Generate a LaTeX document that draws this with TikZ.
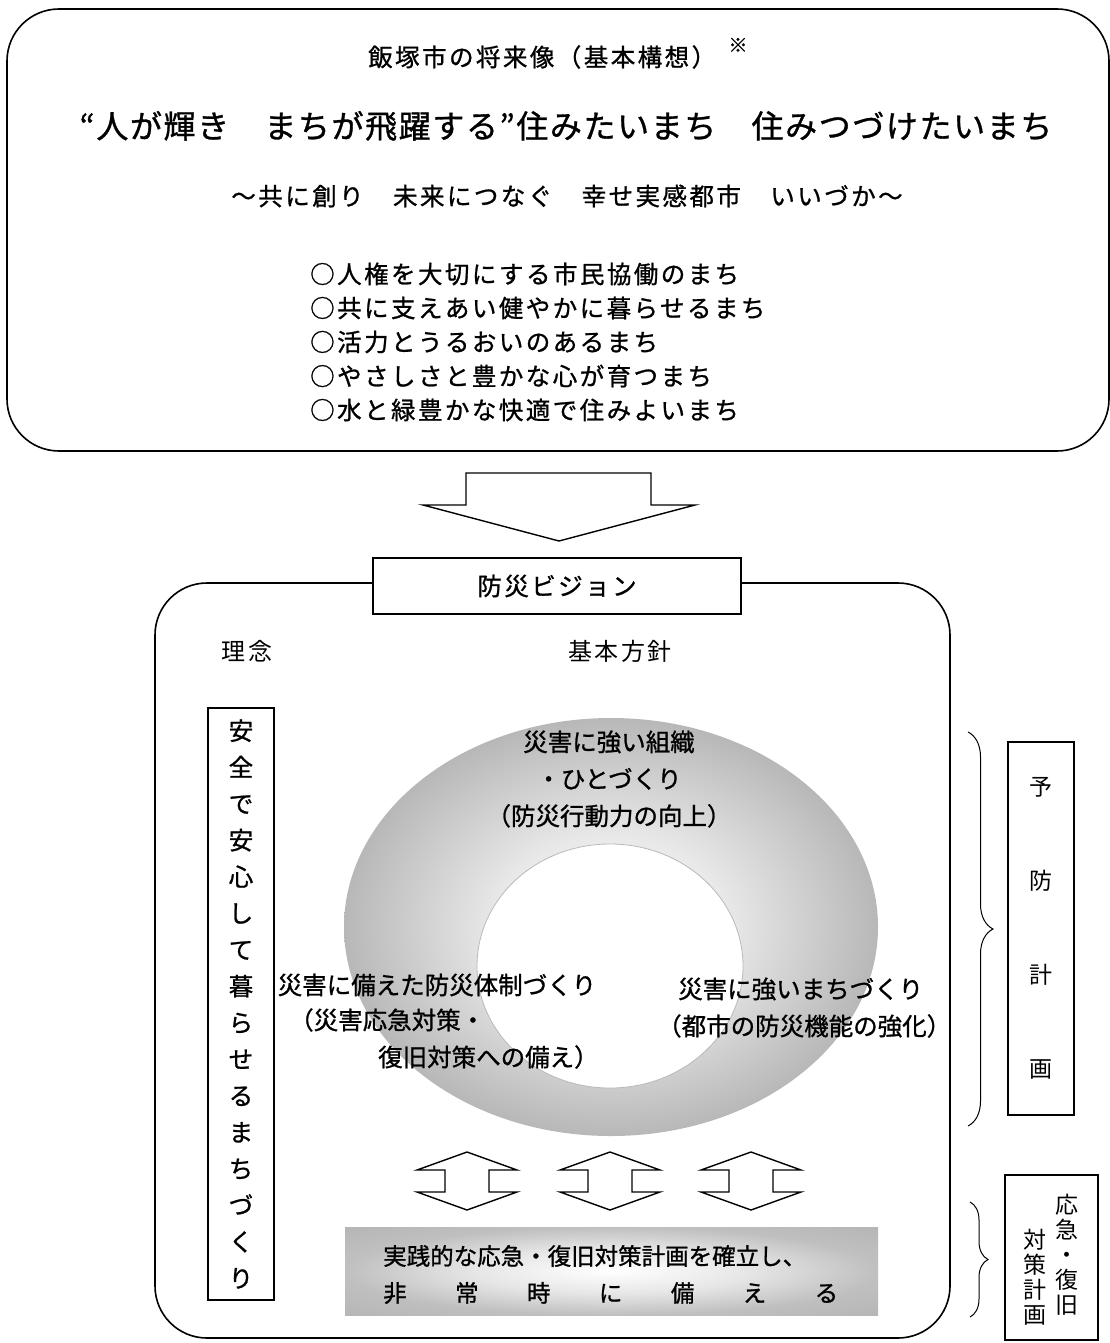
\documentclass[tikz,border=0pt]{standalone}
\usepackage{fontspec}
\usepackage{tikz}
\usetikzlibrary{positioning,decorations.pathreplacing}
\setmainfont{Noto Sans CJK JP}
\newfontfamily\jpfont[FakeBold=1]{Noto Sans CJK JP}
\newfontfamily\jplight{Noto Sans CJK JP}
\newfontfamily\jpwide[LetterSpace=10,FakeBold=1]{Noto Sans CJK JP}
\newfontfamily\jpthin[LetterSpace=10]{Noto Sans CJK JP}
\newfontfamily\jptitle[LetterSpace=5,FakeBold=1]{Noto Sans CJK JP}
\pgfdeclareradialshading{ringshade}{\pgfpoint{0bp}{0bp}}{color(0bp)=(white); color(11bp)=(gray!18); color(25bp)=(gray!56); color(50bp)=(gray!56)}
\pgfdeclareradialshading{barshade}{\pgfpoint{0bp}{0bp}}{color(0bp)=(white); color(13bp)=(gray!20); color(25bp)=(gray!50); color(36bp)=(gray!58); color(50bp)=(gray!58)}

\begin{document}
\begin{tikzpicture}[x=1pt,y=-1pt]
\tikzset{frame/.style = {draw,line width=1.6pt,rounded corners=52pt}}
\tikzset{outline/.style = {draw,line width=1.4pt}}
\tikzset{wide/.style = {inner sep=0pt,font=\jpwide\fontsize{24.5}{27}\selectfont}}
\tikzset{thin/.style = {inner sep=0pt,font=\jpthin\fontsize{24}{27}\selectfont}}
\tikzset{ringtxt/.style = {inner sep=0pt,font=\jpfont\fontsize{24.5}{34}\selectfont}}
\tikzset{column/.style = {outline,inner sep=0pt,align=center}}
\tikzset{curly/.style = {decorate,decoration={brace,amplitude=25pt},line width=1pt}}
\useasboundingbox (0,0) rectangle (1110,1343);
% future image
\draw[frame] (7,9) rectangle (1109,451);
\node[wide,anchor=west] (future) at (368,57) {飯塚市の将来像（基本構想）};
\node[inner sep=0pt,font=\jpfont\fontsize{19}{19}\selectfont] (note) at (738,45) {※};
\node[inner sep=0pt,font=\jptitle\fontsize{32}{36}\selectfont] (slogan) at (566,126) {“人が輝き　まちが飛躍する”住みたいまち　住みつづけたいまち};
\node[wide] (city) at (567,196) {～共に創り　未来につなぐ　幸せ実感都市　いいづか～};
\foreach \g [count=\i] in {○人権を大切にする市民協働のまち,○共に支えあい健やかに暮らせるまち,○活力とうるおいのあるまち,○やさしさと豊かな心が育つまち,○水と緑豊かな快適で住みよいまち}
  \node[wide,anchor=west] (goal\i) at (310,{240+34*\i}) {\g};
% arrow
\draw[outline] (466,473) -- (651,473) -- (651,505) -- (695,505) -- (559,541) -- (423,505) -- (466,505) -- cycle;
% vision
\draw[frame] (155,583) rectangle (950,1338);
\node[outline,fill=white,minimum width=368pt,minimum height=56pt] (vision) at (557,586) {\jpwide\fontsize{24.5}{27}\selectfont 防災ビジョン};
\node[thin] (idea) at (247,651) {理念};
\node[thin] (policy) at (620,651) {基本方針};
\node[column,minimum width=66pt,minimum height=592pt,font=\jpfont\fontsize{24.5}{36.5}\selectfont] (motto) at (241,1004) {安\\全\\で\\安\\心\\し\\て\\暮\\ら\\せ\\る\\ま\\ち\\づ\\く\\り};
% ring
\shade[shading=ringshade] (611,927) ellipse [x radius=267pt,y radius=209pt];
\draw[gray!55,line width=0.8pt,fill=white] (610,966) ellipse [x radius=133pt,y radius=122pt];
\node[ringtxt,align=center,font=\jpfont\fontsize{24.5}{37}\selectfont] (people) at (609,779) {災害に強い組織\\・ひとづくり\\（防災行動力の向上）};
\node[ringtxt] (system1) at (437,985) {災害に備えた防災体制づくり};
\node[ringtxt,anchor=west] (system2) at (289,1020) {（災害応急対策・};
\node[ringtxt,anchor=west] (system3) at (378,1057) {復旧対策への備え）};
\node[ringtxt,anchor=west] (town1) at (678,989) {災害に強いまちづくり};
\node[ringtxt,anchor=west] (town2) at (657,1026) {（都市の防災機能の強化）};
% double arrows
\foreach \cx in {467,610,751}
  \draw[outline] ({\cx-50},1170) -- (\cx,1152) -- ({\cx+50},1170) -- ({\cx+22},1170) -- ({\cx+22},1192) -- ({\cx+50},1192) -- (\cx,1210) -- ({\cx-50},1192) -- ({\cx-22},1192) -- ({\cx-22},1170) -- cycle;
% response bar
\node[shade,shading=barshade,minimum width=533pt,minimum height=88pt,inner sep=0pt] (bar) at (611.5,1271) {};
\node[inner sep=0pt,anchor=west,font=\jpfont\fontsize{23.5}{27}\selectfont] (act1) at (383,1256) {実践的な応急・復旧対策計画を確立し、};
\node[inner sep=0pt,anchor=west,font=\jpfont\fontsize{23.5}{27}\selectfont] (act2) at (383,1293) {\hbox to 455pt{非\hfill 常\hfill 時\hfill に\hfill 備\hfill え\hfill る}};
% plans
\node[column,minimum width=66pt,minimum height=373pt,font=\jplight\fontsize{23}{94}\selectfont] (prevent) at (1041,928.5) {予\\防\\計\\画};
\node[outline,minimum width=93pt,minimum height=165pt] (resp) at (1051.5,1257.5) {};
\node[inner sep=0pt,align=center,font=\jplight\fontsize{23}{25}\selectfont] (resp1) at (1067,1255) {応\\急\\・\\復\\旧};
\node[inner sep=0pt,align=center,font=\jplight\fontsize{23}{25}\selectfont] (resp2) at (1035,1277.5) {対\\策\\計\\画};
% braces
\coordinate (br1a) at (968,732);
\coordinate (br1b) at (968,1126);
\coordinate (br2a) at (970,1202);
\coordinate (br2b) at (970,1317);
\draw[curly] (br1a) -- (br1b);
\draw[curly,decoration={amplitude=18pt}] (br2a) -- (br2b);
\end{tikzpicture}
\end{document}
